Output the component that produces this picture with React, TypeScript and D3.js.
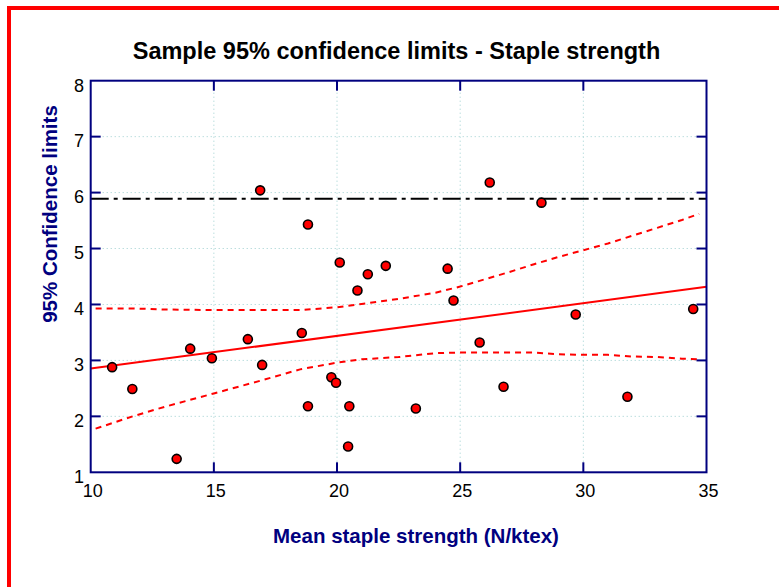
import React from "react";
import * as d3 from "d3";

const strengthX = [10.87, 11.69, 13.49, 14.04, 14.92, 16.38, 16.88, 16.96, 18.57, 18.82, 18.82, 19.77, 19.96, 20.11, 20.45, 20.5, 20.83, 21.25, 21.98, 23.2, 24.49, 24.73, 25.79, 26.2, 26.76, 28.3, 29.69, 31.79, 34.46];
const limitY = [2.88, 2.49, 1.24, 3.21, 3.04, 3.38, 6.04, 2.92, 3.49, 5.43, 2.18, 2.7, 2.6, 4.75, 1.46, 2.18, 4.25, 4.54, 4.69, 2.14, 4.64, 4.07, 3.32, 6.18, 2.53, 5.82, 3.82, 2.35, 3.92];

const fitX = [10, 35];
const fitY = [2.855, 4.315];

const controlLimit = 5.89;

const bandX = [10.2, 11.7, 13, 15, 17, 18.5, 20, 21, 22.5, 24, 25, 26, 27, 28, 29, 30, 31, 32, 33, 34, 34.7];
const upperY = [3.93, 3.93, 3.91, 3.9, 3.9, 3.9, 3.95, 4.01, 4.1, 4.21, 4.32, 4.45, 4.58, 4.72, 4.85, 4.97, 5.09, 5.23, 5.37, 5.51, 5.62];
const lowerY = [1.78, 2.0, 2.17, 2.41, 2.65, 2.84, 2.96, 3.02, 3.06, 3.13, 3.14, 3.14, 3.14, 3.14, 3.11, 3.1, 3.1, 3.07, 3.06, 3.03, 3.02];

const xTicks = [10, 15, 20, 25, 30, 35];
const yTicks = [1, 2, 3, 4, 5, 6, 7, 8];

const titleText = "Sample 95% confidence limits - Staple strength";
const xLabel = "Mean staple strength (N/ktex)";
const yLabel = "95% Confidence limits";

export default function App() {
  const W = 779, H = 587;
  const L = 90.7, R = 706.5, T = 80.7, B = 472.3;
  const x = d3.scaleLinear().domain([10, 35]).range([L, R]);
  const y = d3.scaleLinear().domain([1, 8]).range([B, T]);
  const navy = "#00007f";
  const font = "'Liberation Sans', Arial, sans-serif";
  const line = d3.line<[number, number]>().x((d) => x(d[0])).y((d) => y(d[1]));
  const fitPts: [number, number][] = fitX.map((v, i) => [v, fitY[i]]);
  const upPts: [number, number][] = bandX.map((v, i) => [v, upperY[i]]);
  const loPts: [number, number][] = bandX.map((v, i) => [v, lowerY[i]]);
  const tickLen = 10;
  const gridColor = "#9ccfcf";
  return (
    <svg width={W} height={H} style={{ position: "absolute", left: 0, top: 0, background: "#fff" }} fontFamily={font}>
      <rect x={0} y={0} width={W} height={H} fill="#fff" />
      <line x1={9} x2={W} y1={8} y2={8} stroke="#ff0000" strokeWidth={4} />
      <line x1={9} x2={9} y1={6} y2={H} stroke="#ff0000" strokeWidth={4} />
      {/* grid */}
      {xTicks.slice(1, -1).map((t) => (
        <line key={"gx" + t} x1={x(t)} x2={x(t)} y1={T} y2={B} stroke={gridColor} strokeWidth={1} strokeDasharray="1,3" />
      ))}
      {yTicks.slice(1, -1).map((t) => (
        <line key={"gy" + t} x1={L} x2={R} y1={y(t)} y2={y(t)} stroke={gridColor} strokeWidth={1} strokeDasharray="1,3" />
      ))}
      {/* control limit */}
      <line x1={L} x2={R} y1={y(controlLimit)} y2={y(controlLimit)} stroke="#000" strokeWidth={2} strokeDasharray="18,5,4,5" />
      {/* bands */}
      <path d={line(upPts) || ""} fill="none" stroke="#ff0000" strokeWidth={2} strokeDasharray="6,5" />
      <path d={line(loPts) || ""} fill="none" stroke="#ff0000" strokeWidth={2} strokeDasharray="6,5" />
      {/* fit */}
      <path d={line(fitPts) || ""} fill="none" stroke="#ff0000" strokeWidth={2} />
      {/* points */}
      {strengthX.map((v, i) => (
        <circle key={"p" + i} cx={x(v)} cy={y(limitY[i])} r={4.5} fill="#ff0000" stroke="#000" strokeWidth={1.6} />
      ))}
      {/* frame */}
      <rect x={L} y={T} width={R - L} height={B - T} fill="none" stroke={navy} strokeWidth={2} />
      {xTicks.slice(1, -1).map((t) => (
        <g key={"tx" + t}>
          <line x1={x(t)} x2={x(t)} y1={B} y2={B - tickLen} stroke={navy} strokeWidth={2} />
          <line x1={x(t)} x2={x(t)} y1={T} y2={T + tickLen} stroke={navy} strokeWidth={2} />
        </g>
      ))}
      {yTicks.slice(1, -1).map((t) => (
        <g key={"ty" + t}>
          <line x1={L} x2={L + tickLen} y1={y(t)} y2={y(t)} stroke={navy} strokeWidth={2} />
          <line x1={R} x2={R - tickLen} y1={y(t)} y2={y(t)} stroke={navy} strokeWidth={2} />
        </g>
      ))}
      {/* tick labels */}
      {xTicks.map((t) => (
        <text key={"lx" + t} x={x(t) + 2} y={497} textAnchor="middle" fontSize={18} fill="#000">{t}</text>
      ))}
      {yTicks.map((t) => (
        <text key={"ly" + t} x={84} y={y(t) + 10.8} textAnchor="end" fontSize={18} fill="#000">{t}</text>
      ))}
      {/* titles */}
      <text x={396.5} y={58.5} textAnchor="middle" fontSize={23.5} fontWeight="bold" fill="#000">{titleText}</text>
      <text x={416} y={543} textAnchor="middle" fontSize={20.5} fontWeight="bold" fill={navy}>{xLabel}</text>
      <text transform={`translate(56.5,214) rotate(-90)`} textAnchor="middle" fontSize={20.5} fontWeight="bold" fill={navy}>{yLabel}</text>
    </svg>
  );
}
